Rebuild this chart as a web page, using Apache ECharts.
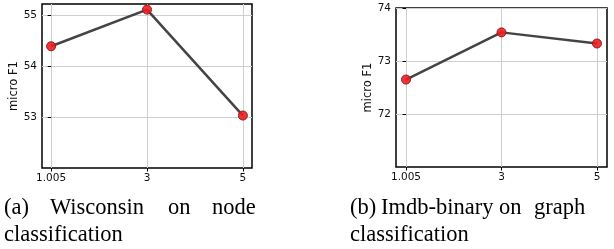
<!DOCTYPE html>
<html>
<head>
<meta charset="utf-8">
<script src="https://cdn.jsdelivr.net/npm/echarts@6/dist/echarts.min.js"></script>
<style>
html, body { margin: 0; padding: 0; background: #fff; }
#chart { width: 614px; height: 249px; }
</style>
</head>
<body>
<div id="chart"></div>
<script>
// x tick labels (evenly spaced, shared by both panels)
var xLabels = ['1.005', '3', '5']
var xIndex = [0, 1, 2]

// (a) Wisconsin, node classification
var wiscF1 = [54.39, 55.11, 53.03]
var wiscTicks = [53, 54, 55]

// (b) Imdb-binary, graph classification
var imdbF1 = [72.65, 73.54, 73.33]
var imdbTicks = [72, 73, 74]

function pairs(vals){
    var out = []
    for(var i = 0; i < vals.length; i++){
        out.push([xIndex[i], vals[i]])
    }
    return out
}

var tickFont = 'DejaVu Sans'
var serif = '"Liberation Serif", "Times New Roman", serif'

function xAxis(idx, pad){
    return {
        type: 'value', gridIndex: idx,
        min: -pad, max: 2 + pad,
        axisLine: { show: false },
        axisTick: { show: true, length: 3.5, customValues: xIndex, lineStyle: { color: '#000', width: 1 } },
        axisLabel: {
            customValues: xIndex, margin: 5, color: '#111',
            fontFamily: tickFont, fontSize: 10.5,
            formatter: function(v){ return xLabels[Math.round(v)] }
        },
        splitLine: { show: true, lineStyle: { color: '#cfcfcf', width: 1 } }
    }
}

function yAxis(idx, lo, hi, ticks, gap){
    return {
        type: 'value', gridIndex: idx,
        min: lo, max: hi,
        name: 'micro F1', nameLocation: 'middle', nameGap: gap, nameRotate: 90,
        nameTextStyle: { fontFamily: tickFont, fontSize: 11.5, color: '#111' },
        axisLine: { show: false },
        axisTick: { show: true, length: 3.5, customValues: ticks, lineStyle: { color: '#000', width: 1 } },
        axisLabel: { customValues: ticks, margin: 5, color: '#111', fontFamily: tickFont, fontSize: 10.5 },
        splitLine: { show: true, lineStyle: { color: '#cfcfcf', width: 1 } }
    }
}

function lineSeries(idx, vals){
    return {
        type: 'line', xAxisIndex: idx, yAxisIndex: idx,
        data: pairs(vals),
        symbol: 'circle', symbolSize: 9,
        lineStyle: { color: '#444', width: 2.5 },
        itemStyle: { color: 'rgba(235,30,35,0.9)', borderColor: '#9a1515', borderWidth: 1 },
        z: 3
    }
}

// captions are justified in the paper, so each word is placed on its own
function capText(x, y, s){
    return { type: 'text', left: x, top: y, style: { text: s, font: '22.5px ' + serif, fill: '#000' } }
}

var frame = { show: true, borderColor: '#000', borderWidth: 1.5, backgroundColor: 'transparent' }

var option = {
    animation: false,
    grid: [
        Object.assign({ left: 42, top: 4, width: 210, height: 164 }, frame),
        Object.assign({ left: 396, top: 8, width: 211, height: 159 }, frame)
    ],
    xAxis: [xAxis(0, 0.095), xAxis(1, 0.105)],
    yAxis: [yAxis(0, 52, 55.22, wiscTicks, 21), yAxis(1, 71, 74, imdbTicks, 18)],
    series: [lineSeries(0, wiscF1), lineSeries(1, imdbF1)],
    graphic: [
        capText(4, 197, '(a)'),
        capText(50, 197, 'Wisconsin'),
        capText(168, 197, 'on'),
        capText(212, 197, 'node'),
        capText(4, 224, 'classification'),
        capText(350, 197, '(b)'),
        capText(381, 197, 'Imdb-binary'),
        capText(499, 197, 'on'),
        capText(534, 197, 'graph'),
        capText(350, 224, 'classification')
    ]
}

var myChart = echarts.init(document.getElementById('chart'))
myChart.setOption(option)
</script>
</body>
</html>
